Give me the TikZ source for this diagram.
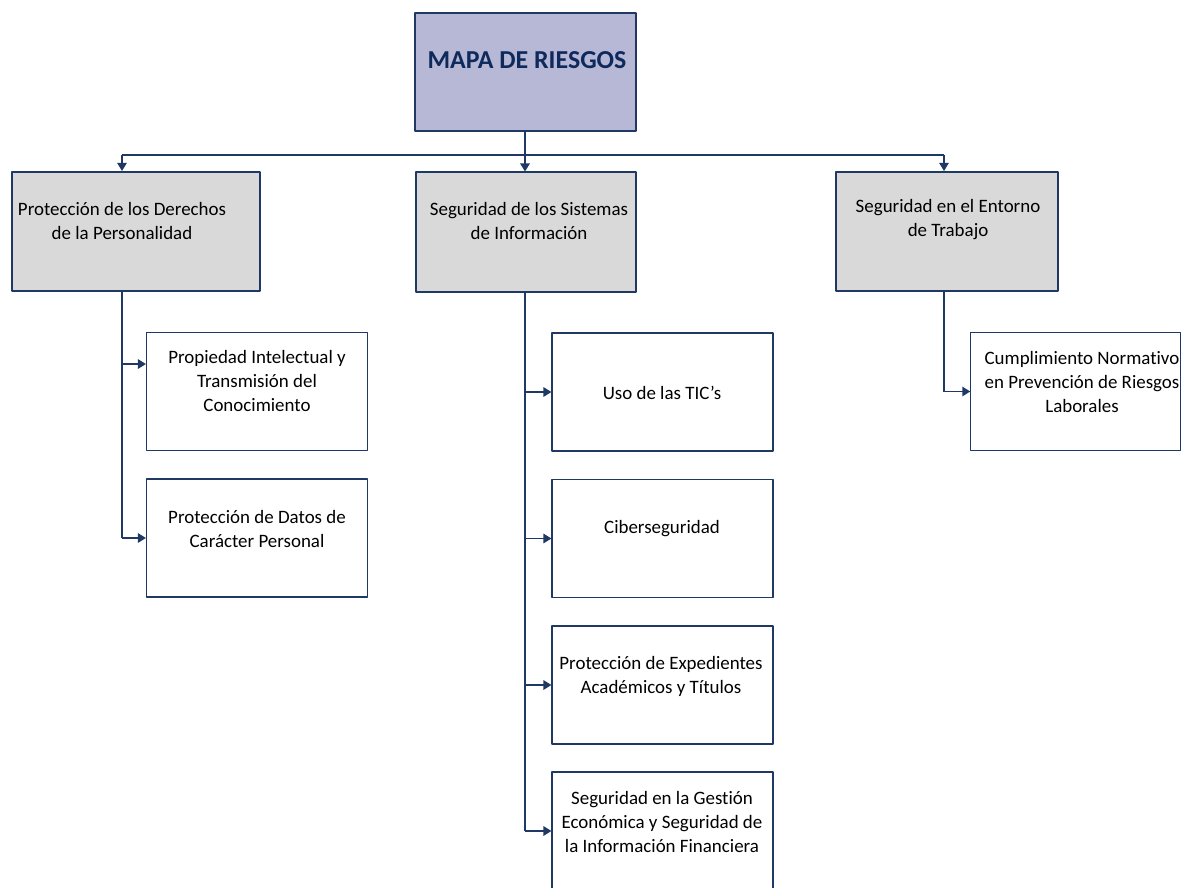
\documentclass[tikz,border=0pt]{standalone}
\usepackage{fontspec}
\setmainfont{Carlito}[Ligatures=NoCommon]
\usetikzlibrary{arrows.meta}
\definecolor{navy}{HTML}{1F3864}
\definecolor{titlenavy}{HTML}{0E2A5C}
\definecolor{lavender}{HTML}{B7B8D6}
\definecolor{boxgray}{HTML}{D9D9D9}
\begin{document}
\begin{tikzpicture}[x=0.75pt, y=-0.75pt, line join=round, >={Triangle[length=6pt,width=7pt]},
    titlebox/.style={draw=navy, line width=1.5pt, fill=lavender, minimum width=165.75pt, minimum height=88.5pt, inner sep=0pt},
    groupbox/.style={draw=navy, line width=1.5pt, fill=boxgray, minimum height=89.25pt, inner sep=0pt},
    leafbox/.style={draw=navy, line width=0.8pt, fill=white, minimum width=165.75pt, minimum height=88.5pt, inner sep=0pt},
    lbl/.style={align=center, inner sep=0pt, font=\fontsize{14.2}{18}\selectfont},
    trunk/.style={draw=navy, line width=1.3pt},
    bus/.style={draw=navy, line width=0.9pt}]
    \useasboundingbox (0,0) rectangle (1181,888);
    % title and groups
    \node[titlebox] (mapa) at (525.5,72) {};
    \node[lbl, font=\fontsize{19.4}{22}\selectfont\bfseries, text=titlenavy] (mapat) at (527,60) {MAPA DE RIESGOS};
    \node[groupbox, minimum width=186pt] (prot) at (136,231.5) {};
    \node[groupbox, minimum width=165pt] (sis) at (526,232) {};
    \node[groupbox, minimum width=166.5pt] (ent) at (947,231.5) {};
    \node[lbl] (prott) at (122,221) {Protección de los Derechos\\de la Personalidad};
    \node[lbl] (sist) at (529,221) {Seguridad de los Sistemas\\de Información};
    \node[lbl] (entt) at (948,220) {Seguridad en el Entorno\\de Trabajo};
    % leaves
    \node[leafbox] (prop) at (257,391.5) {};
    \node[leafbox] (datos) at (257,538) {};
    \node[leafbox] (tic) at (662.5,392) {};
    \node[leafbox] (ciber) at (662.5,538.5) {};
    \node[leafbox] (exped) at (662.5,685) {};
    \node[leafbox] (econ) at (662.5,831) {};
    \node[leafbox, minimum width=157pt] (norma) at (1075.5,391.5) {};
    \node[lbl] (propt) at (257,381) {Propiedad Intelectual y\\Transmisión del\\Conocimiento};
    \node[lbl] (datost) at (257,529) {Protección de Datos de\\Carácter Personal};
    \node[lbl] (tict) at (662,393) {Uso de las TIC’s};
    \node[lbl] (cibert) at (662,529) {Ciberseguridad};
    \node[lbl] (expedt) at (661,676) {Protección de Expedientes\\Académicos y Títulos};
    \node[lbl] (econt) at (662,822) {Seguridad en la Gestión\\Económica y Seguridad de\\la Información Financiera};
    \node[lbl] (normat) at (1082,382) {Cumplimiento Normativo\\en Prevención de Riesgos\\Laborales};
    % connectors
    \coordinate (busL) at (122,155);
    \coordinate (busM) at (525,155);
    \coordinate (busR) at (944,155);
    \draw[bus] (busL) -- (busR);
    \draw[trunk,->] (mapa.south -| busM) -- (sis.north -| busM);
    \draw[bus,->] (busL) -- (busL |- prot.north);
    \draw[bus,->] (busR) -- (busR |- ent.north);
    \draw[trunk] (busL |- prot.south) -- (busL |- datos.west);
    \draw[trunk,->] (busL |- prop.west) ++(0,-27.5) -- ([yshift=20.6pt]prop.west);
    \draw[trunk,->] (busL |- datos.west) -- (datos.west);
    \draw[trunk] (busM |- sis.south) -- (busM |- econ.west);
    \foreach \n in {tic,ciber,exped,econ}
        \draw[trunk,->] (busM |- \n.west) -- (\n.west);
    \draw[trunk] (busR |- ent.south) -- (busR |- norma.west);
    \draw[trunk,->] (busR |- norma.west) -- (norma.west);
\end{tikzpicture}
\end{document}
